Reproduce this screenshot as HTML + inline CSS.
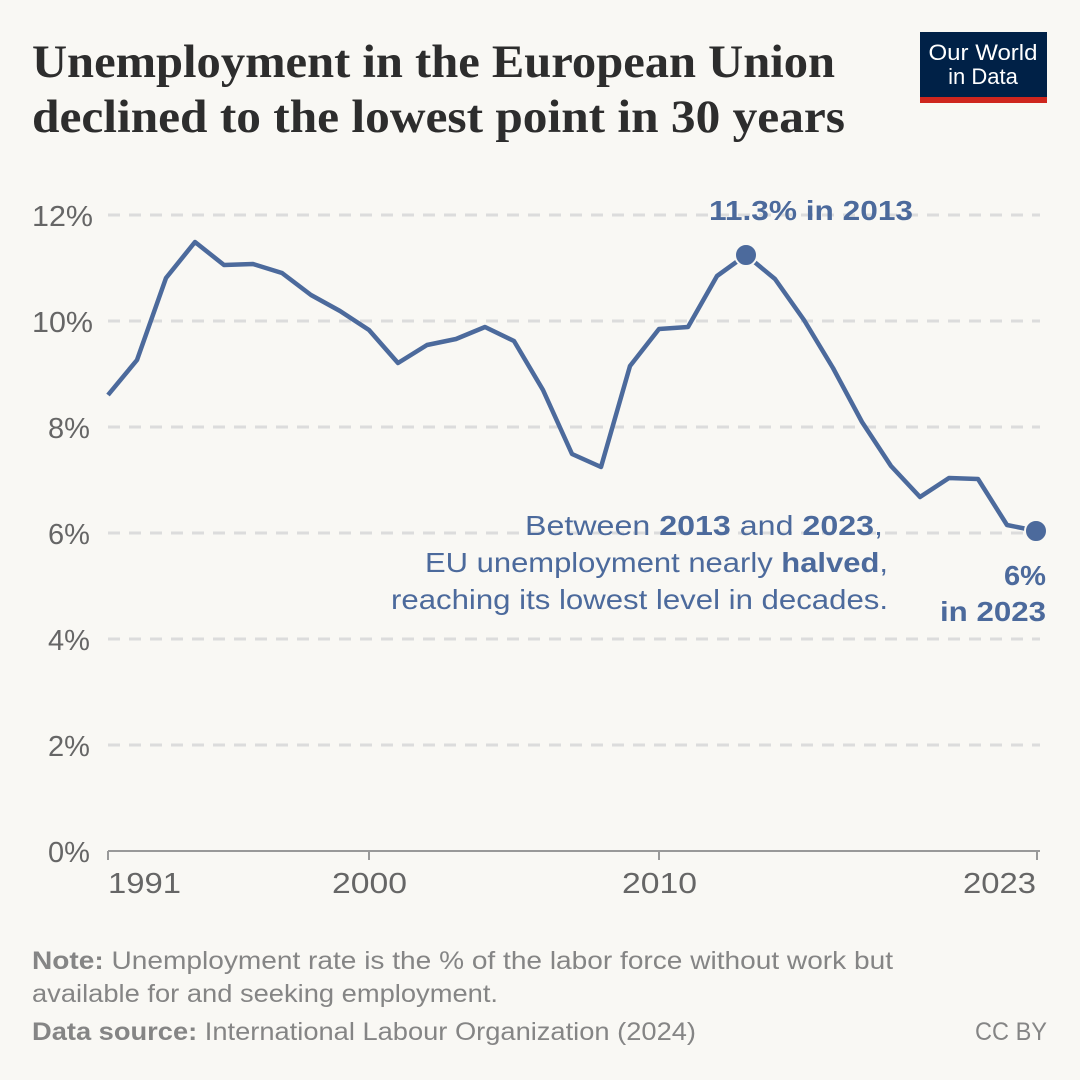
<!DOCTYPE html>
<html><head><meta charset="utf-8"><style>
html,body{margin:0;padding:0;background:#f9f8f4;}
svg{display:block}
</style></head><body>
<svg width="1080" height="1080" viewBox="0 0 1080 1080" xmlns="http://www.w3.org/2000/svg">
<rect width="1080" height="1080" fill="#f9f8f4"/>
<g font-family="Liberation Serif, serif" font-weight="bold" font-size="47" fill="#2d2d2d" lengthAdjust="spacingAndGlyphs">
<text x="32" y="77" textLength="803" lengthAdjust="spacingAndGlyphs">Unemployment in the European Union</text>
<text x="32" y="132" textLength="813" lengthAdjust="spacingAndGlyphs">declined to the lowest point in 30 years</text>
</g>
<rect x="920" y="32" width="127" height="66" fill="#002147"/>
<rect x="920" y="97" width="127" height="6" fill="#ce261e"/>
<g font-family="Liberation Sans, sans-serif" font-size="22" fill="#fff" text-anchor="middle">
<text x="983" y="60" textLength="109" lengthAdjust="spacingAndGlyphs">Our World</text><text x="983" y="84">in Data</text>
</g>
<g stroke="#dcdcdc" stroke-width="3" stroke-dasharray="12,9">
<line x1="108" y1="215" x2="1040" y2="215"/>
<line x1="108" y1="321" x2="1040" y2="321"/>
<line x1="108" y1="427" x2="1040" y2="427"/>
<line x1="108" y1="533" x2="1040" y2="533"/>
<line x1="108" y1="639" x2="1040" y2="639"/>
<line x1="108" y1="745" x2="1040" y2="745"/>
</g>
<line x1="108" y1="851" x2="1040" y2="851" stroke="#999" stroke-width="2"/>
<g stroke="#999" stroke-width="2">
<line x1="108" y1="851" x2="108" y2="860"/><line x1="369" y1="851" x2="369" y2="860"/>
<line x1="659" y1="851" x2="659" y2="860"/><line x1="1037" y1="851" x2="1037" y2="860"/>
</g>
<g font-family="Liberation Sans, sans-serif" font-size="29" fill="#666">
<text x="32" y="226" textLength="61" lengthAdjust="spacingAndGlyphs">12%</text><text x="32" y="332" textLength="61" lengthAdjust="spacingAndGlyphs">10%</text><text x="48" y="438">8%</text>
<text x="48" y="544">6%</text><text x="48" y="650">4%</text><text x="48" y="756">2%</text>
<text x="48" y="862">0%</text>
<text x="108" y="893" textLength="73" lengthAdjust="spacingAndGlyphs">1991</text><text x="332" y="893" textLength="75" lengthAdjust="spacingAndGlyphs">2000</text>
<text x="622" y="893" textLength="75" lengthAdjust="spacingAndGlyphs">2010</text><text x="963" y="893" textLength="73" lengthAdjust="spacingAndGlyphs">2023</text>
</g>
<polyline fill="none" stroke="#4c6a9c" stroke-width="4.5" stroke-linejoin="round" points="108,395 137,360 166,278 195,242 224,265 253,264 282,273 311,295 340,311 369,330 398,363 427,345 456,339 485,327 514,341 543,390 572,454 601,467 630,366 659,329 688,327 717,276 746,255 775,279 804,320 833,368 862,422 891,466 920,497 949,478 978,479 1007,525 1037,531"/>
<circle cx="746" cy="255" r="11" fill="#4c6a9c" stroke="#f9f8f4" stroke-width="2"/>
<circle cx="1036" cy="531" r="11" fill="#4c6a9c" stroke="#f9f8f4" stroke-width="2"/>
<g font-family="Liberation Sans, sans-serif" font-size="28" fill="#4c6a9c">
<text x="709" y="220" font-weight="bold" textLength="204" lengthAdjust="spacingAndGlyphs">11.3% in 2013</text>
<text x="1004" y="585" font-weight="bold" textLength="42" lengthAdjust="spacingAndGlyphs">6%</text>
<text x="940" y="621" font-weight="bold" textLength="106" lengthAdjust="spacingAndGlyphs">in 2023</text>
<text x="525" y="535" textLength="358" lengthAdjust="spacingAndGlyphs">Between <tspan font-weight="bold">2013</tspan> and <tspan font-weight="bold">2023</tspan>,</text>
<text x="425" y="572" textLength="463" lengthAdjust="spacingAndGlyphs">EU unemployment nearly <tspan font-weight="bold">halved</tspan>,</text>
<text x="391" y="609" textLength="497" lengthAdjust="spacingAndGlyphs">reaching its lowest level in decades.</text>
</g>
<g font-family="Liberation Sans, sans-serif" font-size="25" fill="#858585">
<text x="32" y="969" textLength="861" lengthAdjust="spacingAndGlyphs"><tspan font-weight="bold">Note:</tspan> Unemployment rate is the % of the labor force without work but</text>
<text x="32" y="1002" textLength="466" lengthAdjust="spacingAndGlyphs">available for and seeking employment.</text>
<text x="32" y="1040" textLength="664" lengthAdjust="spacingAndGlyphs"><tspan font-weight="bold">Data source:</tspan> International Labour Organization (2024)</text>
<text x="975" y="1040" textLength="72" lengthAdjust="spacingAndGlyphs">CC BY</text>
</g>
</svg>
</body></html>
